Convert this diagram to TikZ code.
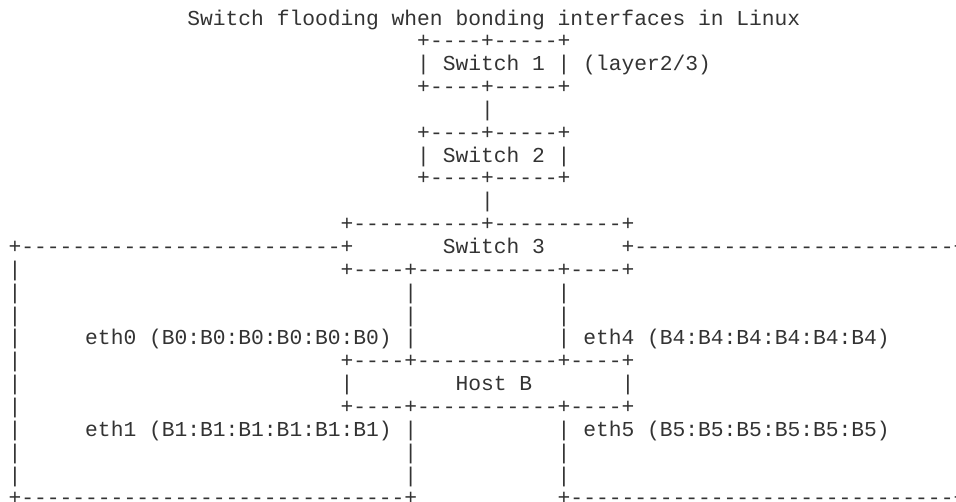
\documentclass[tikz,border=0pt]{standalone}
\usepackage{fontspec}
\setmonofont{Liberation Mono}[Ligatures=TeXOff]
\tikzset{asc/.style={anchor=base west, inner sep=0pt, outer sep=0pt,
  font=\ttfamily\fontsize{21.28}{22.85}\selectfont, text=black!80}}
\newcommand{\seg}[4]{\node[asc] (#1) at ({8.6+12.77*#3},{-(25+22.85*#2)}) {#4};}
\begin{document}
\begin{tikzpicture}[x=1pt,y=1pt]
\useasboundingbox (0,0) rectangle (956,-501);
\seg{t}{0}{14}{Switch flooding when bonding interfaces in Linux}
\seg{s1a}{1}{32}{+----+-----+}
\seg{s1b}{2}{32}{| Switch 1 | (layer2/3)}
\seg{s1c}{3}{32}{+----+-----+}
\seg{c12}{4}{37}{|}
\seg{s2a}{5}{32}{+----+-----+}
\seg{s2b}{6}{32}{| Switch 2 |}
\seg{s2c}{7}{32}{+----+-----+}
\seg{c23}{8}{37}{|}
\seg{s3a}{9}{26}{+----------+----------+}
\seg{s3l}{10}{0}{+-------------------------+}
\seg{s3t}{10}{34}{Switch 3}
\seg{s3r}{10}{48}{+-------------------------+}
\seg{r11a}{11}{0}{|}
\seg{r11b}{11}{26}{+----+-----------+----+}
\seg{r12a}{12}{0}{|}
\seg{r12b}{12}{31}{|}
\seg{r12c}{12}{43}{|}
\seg{r13a}{13}{0}{|}
\seg{r13b}{13}{31}{|}
\seg{r13c}{13}{43}{|}
\seg{r14a}{14}{0}{|}
\seg{e0}{14}{6}{eth0 (B0:B0:B0:B0:B0:B0)}
\seg{r14b}{14}{31}{|}
\seg{e4}{14}{43}{| eth4 (B4:B4:B4:B4:B4:B4)}
\seg{r15a}{15}{0}{|}
\seg{r15b}{15}{26}{+----+-----------+----+}
\seg{r16a}{16}{0}{|}
\seg{r16b}{16}{26}{|}
\seg{hb}{16}{35}{Host B}
\seg{r16c}{16}{48}{|}
\seg{r17a}{17}{0}{|}
\seg{r17b}{17}{26}{+----+-----------+----+}
\seg{r18a}{18}{0}{|}
\seg{e1}{18}{6}{eth1 (B1:B1:B1:B1:B1:B1)}
\seg{r18b}{18}{31}{|}
\seg{e5}{18}{43}{| eth5 (B5:B5:B5:B5:B5:B5)}
\seg{r19a}{19}{0}{|}
\seg{r19b}{19}{31}{|}
\seg{r19c}{19}{43}{|}
\seg{r20a}{20}{0}{|}
\seg{r20b}{20}{31}{|}
\seg{r20c}{20}{43}{|}
\seg{r21a}{21}{0}{+------------------------------+}
\seg{r21b}{21}{43}{+------------------------------+}
\end{tikzpicture}
\end{document}
